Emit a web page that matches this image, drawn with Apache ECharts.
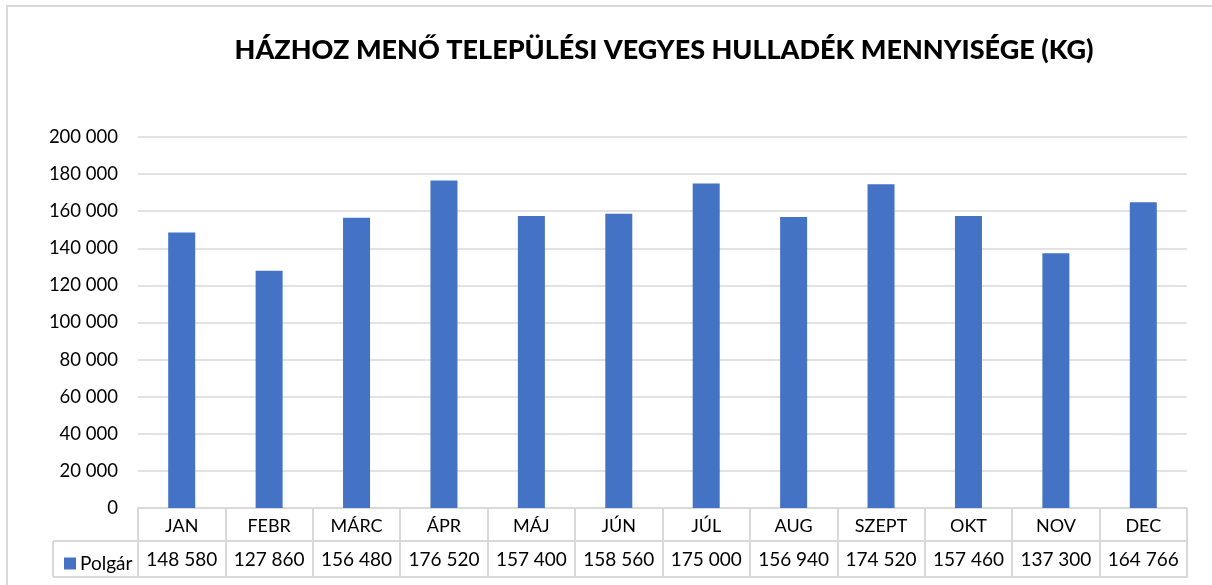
<!DOCTYPE html>
<html>
<head>
<meta charset="utf-8">
<script src="https://cdn.jsdelivr.net/npm/echarts@6/dist/echarts.min.js"></script>
<style>
  html, body { margin: 0; padding: 0; background: #fff; }
  #chart { width: 1212px; height: 585px; }
</style>
</head>
<body>
<div id="chart"></div>
<script>
// adatok
var honapok = ['JAN', 'FEBR', 'MÁRC', 'ÁPR', 'MÁJ', 'JÚN', 'JÚL', 'AUG', 'SZEPT', 'OKT', 'NOV', 'DEC'];
var polgar = [148580, 127860, 156480, 176520, 157400, 158560, 175000, 156940, 174520, 157460, 137300, 164766];
var sorozatNev = 'Polgár';
var cim = 'HÁZHOZ MENŐ TELEPÜLÉSI VEGYES HULLADÉK MENNYISÉGE (KG)';

// ezres tagolás szóközzel
function ezres(v) {
	return String(v).replace(/\B(?=(\d{3})+(?!\d))/g, ' ');
}

var racs = '#d9d9d9';
var betu = 'Lato, "Open Sans", sans-serif';

var myChart = echarts.init(document.getElementById('chart'));
myChart.setOption({
	animation: false,
	textStyle: { fontFamily: betu },
	title: {
		text: cim,
		left: 659,
		textAlign: 'center',
		top: 32,
		textStyle: { fontSize: 27, fontWeight: 900, color: '#000', fontFamily: betu }
	},
	legend: {
		data: [sorozatNev],
		left: 59,
		top: 549,
		icon: 'rect',
		itemWidth: 12,
		itemHeight: 12,
		itemGap: 4,
		textStyle: { fontSize: 19, color: '#000', padding: [0, 0, 0, -1] }
	},
	grid: {
		left: 138,
		right: 25,
		top: 137,
		bottom: 77
	},
	xAxis: [{
			// hónapok sora
			type: 'category',
			data: honapok,
			position: 'bottom',
			axisLine: { lineStyle: { color: racs, width: 2 } },
			axisTick: { show: true, interval: 0, length: 69, lineStyle: { color: racs, width: 2 } },
			axisLabel: { interval: 0, margin: 9, fontSize: 18, color: '#000' }
		},
		{
			// értékek sora
			type: 'category',
			data: polgar.map(ezres),
			position: 'bottom',
			offset: 33,
			axisLine: { show: true, lineStyle: { color: racs, width: 2 } },
			axisTick: { show: false },
			axisLabel: { interval: 0, margin: 9, fontSize: 19, color: '#000' }
		},
		{
			// táblázat alja
			type: 'category',
			data: honapok,
			position: 'bottom',
			offset: 69,
			axisLine: { show: true, lineStyle: { color: racs, width: 2 } },
			axisTick: { show: false },
			axisLabel: { show: false }
		}
	],
	yAxis: {
		type: 'value',
		min: 0,
		max: 200000,
		interval: 20000,
		axisLine: { show: false },
		axisTick: { show: false },
		splitLine: { lineStyle: { color: racs, width: 1.5 } },
		axisLabel: {
			margin: 20,
			fontSize: 18.5,
			color: '#000',
			formatter: function(v) { return ezres(v); }
		}
	},
	series: [{
		name: sorozatNev,
		type: 'bar',
		xAxisIndex: 0,
		data: polgar,
		barWidth: 27,
		itemStyle: { color: '#4472c4' }
	}],
	graphic: [
		{ type: 'rect', shape: { x: 7, y: 6, width: 1400, height: 800 }, style: { fill: null, stroke: racs, lineWidth: 2 }, silent: true },
		{ type: 'line', shape: { x1: 53, y1: 541, x2: 138, y2: 541 }, style: { stroke: racs, lineWidth: 2 } },
		{ type: 'line', shape: { x1: 53, y1: 577, x2: 138, y2: 577 }, style: { stroke: racs, lineWidth: 2 } },
		{ type: 'line', shape: { x1: 53, y1: 541, x2: 53, y2: 577 }, style: { stroke: racs, lineWidth: 2 } }
	]
});
</script>
</body>
</html>
